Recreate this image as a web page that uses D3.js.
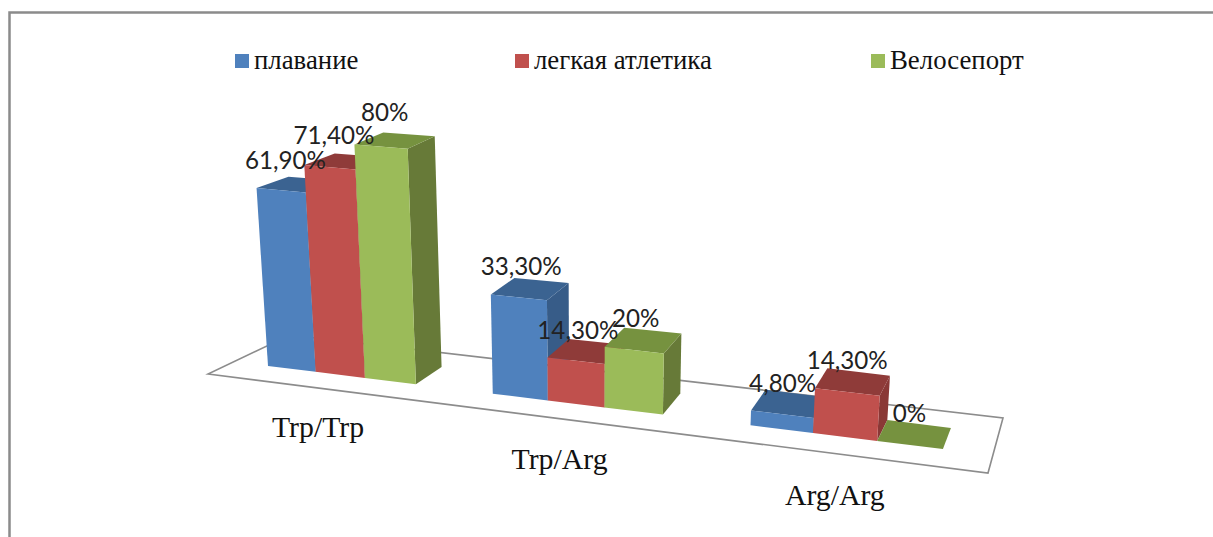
<!DOCTYPE html>
<html lang="ru">
<head>
<meta charset="utf-8">
<title>Trp/Arg</title>
<script src="https://cdn.jsdelivr.net/npm/d3@7"></script>
<style>
  html, body { margin: 0; padding: 0; background: #fff; }
  svg { display: block; }
  .serif { font-family: "Liberation Serif", "Times New Roman", serif; fill: #111; }
  .value { font-family: Lato, "Noto Sans", sans-serif; fill: #222; }
</style>
</head>
<body>
<svg id="chart" width="1213" height="537"></svg>
<script>
// Chart data
const categories = ["Trp/Trp", "Trp/Arg", "Arg/Arg"];
const seriesNames = ["плавание", "легкая атлетика", "Велосепорт"];
const swimming = [61.9, 33.3, 4.8];
const athletics = [71.4, 14.3, 14.3];
const cycling = [80, 20, 0];
const valueLabels = [
  ["61,90%", "33,30%", "4,80%"],
  ["71,40%", "14,30%", "14,30%"],
  ["80%", "20%", "0%"]
];
const seriesValues = [swimming, athletics, cycling];

// Face colours per series: front, top, right side
const faceColors = [
  { front: "#4f81bd", top: "#3b6391", side: "#375c88" },
  { front: "#c0504d", top: "#8f3b39", side: "#8a3836" },
  { front: "#9bbb59", top: "#76923f", side: "#677a38" }
];

const width = 1213, height = 537;
const svg = d3.select("#chart");

// Oblique perspective: bar slots run along the floor from left to right,
// getting a little wider towards the viewer.
const groupPitch = 4.45;
const slotRate = d3.scaleLinear().domain([0, 12]).range([46.8, 56.8]);
const slotX = s => 268 + s * slotRate(s);
const frontY = d3.scaleLinear().domain([268, 943]).range([366, 449]);
const depthDx = d3.scaleLinear().domain([257, 943]).range([31, 8]);
const depthDy = d3.scaleLinear().domain([268, 662, 943]).range([-15, -21, -21]);
const pxPerPercent = d3.scaleLinear().domain([260, 815]).range([2.87, 3.13]);
const vanishX = 590, vanishDistance = 5000, backShrink = 0.02;

// Maps (slot along the floor, depth 0..1, value in percent) to the screen
function project(s, d, value) {
  const bx = slotX(s);
  const h = value * pxPerPercent(bx) * (1 - d * backShrink);
  const x0 = bx + d * depthDx(bx);
  const spread = 1 + h / vanishDistance;
  return [vanishX + (x0 - vanishX) * spread, frontY(bx) + d * depthDy(bx) - h];
}
const polygon = pts => "M" + pts.map(p => p.join(",")).join("L") + "Z";

// Chart area frame, cut off by the right and bottom page edges
svg.append("path")
  .attr("d", `M9.5,${height}V12.5H${width}`)
  .attr("fill", "none").attr("stroke", "#8b8b8b").attr("stroke-width", 2.5);

// Floor of the 3D plot
const floorCorners = [[208, 374], [988, 473], [1003, 418], [290, 335]];
svg.append("path")
  .attr("d", polygon(floorCorners))
  .attr("fill", "none").attr("stroke", "#8c8c8c").attr("stroke-width", 1.6);

// Bars, painted series by series so nearer faces cover earlier ones
const bars = categories.flatMap((c, g) =>
  seriesNames.map((n, k) => ({ g, k, value: seriesValues[k][g], slot: g * groupPitch + k }))
);

const barGroups = svg.append("g").selectAll("g").data(bars).join("g");
barGroups.append("path")
  .attr("fill", d => faceColors[d.k].side)
  .attr("d", d => polygon([
    project(d.slot + 1, 0, 0), project(d.slot + 1, 1, 0),
    project(d.slot + 1, 1, d.value), project(d.slot + 1, 0, d.value)
  ]));
barGroups.append("path")
  .attr("fill", d => faceColors[d.k].top)
  .attr("d", d => polygon([
    project(d.slot, 0, d.value), project(d.slot + 1, 0, d.value),
    project(d.slot + 1, 1, d.value), project(d.slot, 1, d.value)
  ]));
barGroups.append("path")
  .attr("fill", d => faceColors[d.k].front)
  .attr("d", d => polygon([
    project(d.slot, 0, 0), project(d.slot + 1, 0, 0),
    project(d.slot + 1, 0, d.value), project(d.slot, 0, d.value)
  ]));

// Value labels float above each bar's top face, a little higher for taller bars
const labelDx = d3.scaleLinear().domain([292, 910]).range([-11, -5]);
const labelDy = d3.scaleLinear().domain([0, 62, 80]).range([-12, -15, -19]);
svg.append("g").selectAll("text").data(bars).join("text")
  .attr("class", "value")
  .attr("font-size", 24.2)
  .attr("text-anchor", "middle")
  .attr("x", d => project(d.slot + .5, .5, d.value)[0] + labelDx(slotX(d.slot + .5)))
  .attr("y", d => project(d.slot + .5, .5, d.value)[1] + labelDy(d.value))
  .text(d => valueLabels[d.k][d.g]);

// Category names under the floor
const categoryDx = d3.scaleLinear().domain([340, 845]).range([-22, -10]);
const categoryDy = d3.scaleLinear().domain([340, 845]).range([62, 68]);
svg.append("g").selectAll("text").data(categories).join("text")
  .attr("class", "serif")
  .attr("font-size", 29.8)
  .attr("text-anchor", "middle")
  .attr("x", (c, g) => { const bx = slotX(g * groupPitch + 1.5); return bx + categoryDx(bx); })
  .attr("y", (c, g) => { const bx = slotX(g * groupPitch + 1.5); return frontY(bx) + categoryDy(bx); })
  .text(c => c);

// Legend across the top
const legendX = d3.scaleOrdinal().domain(seriesNames).range([235, 515, 871]);
const legend = svg.append("g").selectAll("g").data(seriesNames).join("g")
  .attr("transform", n => `translate(${legendX(n)},54)`);
legend.append("rect")
  .attr("width", 14).attr("height", 14)
  .attr("fill", (n, i) => faceColors[i].front);
legend.append("text")
  .attr("class", "serif")
  .attr("x", 19).attr("y", 15)
  .attr("font-size", 26.8)
  .text(n => n);
</script>
</body>
</html>
